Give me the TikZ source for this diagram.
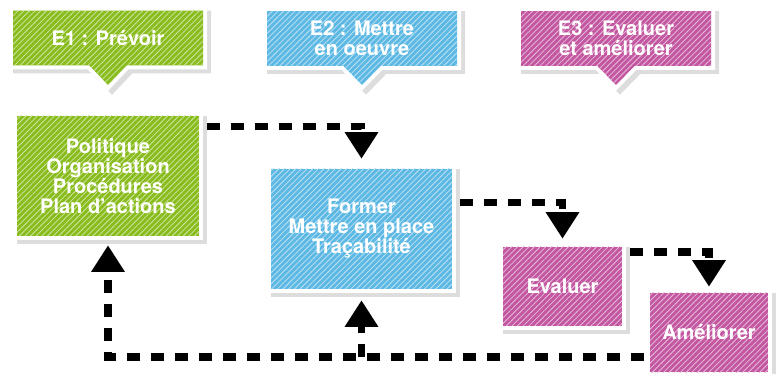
\documentclass[tikz,border=0pt]{standalone}
\usepackage{fontspec}
\setmainfont{TeX Gyre Heros}
\usetikzlibrary{arrows.meta,shapes.callouts,shadows,patterns.meta}
\definecolor{vert}{RGB}{137,188,29}
\definecolor{bleu}{RGB}{93,185,228}
\definecolor{rose}{RGB}{195,87,161}
\definecolor{ombre}{RGB}{221,221,221}
\tikzset{
  bloc/.style={rectangle, fill=#1, inner sep=0pt, align=center, text=white,
    font=\fontsize{15}{15}\selectfont\bfseries,
    drop shadow={shadow xshift=3pt, shadow yshift=-3pt, fill=ombre, draw=ombre, line width=6pt, opacity=1},
    preaction={draw=white, line width=6pt},
    postaction={pattern={Lines[angle=45,distance=3pt,line width=0.6pt]}, pattern color=#1!40!white}},
  etape/.style={bloc=#1, rectangle callout, callout pointer width=28pt, minimum width=142.5pt, minimum height=41pt},
  flux/.style={draw, line width=5.5pt, dash pattern=on 9.75pt off 8.25pt, -{Triangle[width=24pt,length=20pt]}},
}
\begin{document}
\begin{tikzpicture}[x=0.75pt,y=-0.75pt]
\useasboundingbox (0,0) rectangle (779,374);
%etapes
\node[etape=vert, callout absolute pointer={(108,85)}] (e1) at (108,38) {E1 : Prévoir};
\node[etape=bleu, callout absolute pointer={(362,85)}] (e2) at (362,38.5) {E2 : Mettre\\en oeuvre};
\node[etape=rose, callout absolute pointer={(616,85)}] (e3) at (616,38.5) {E3 : Evaluer\\et améliorer};
%blocs
\node[bloc=vert, minimum width=136.5pt, minimum height=90pt] (prevoir) at (108,176) {Politique\\Organisation\\Procédures\\Plan d'actions};
\node[bloc=bleu, minimum width=135.75pt, minimum height=90pt] (mettre) at (361.5,229) {Former\\Mettre en place\\Traçabilité};
\node[bloc=rose, minimum width=89.25pt, minimum height=59.25pt] (evaluer) at (562.5,286.5) {Evaluer};
\node[bloc=rose, minimum width=88.5pt, minimum height=59.25pt] (ameliorer) at (709,332.5) {Améliorer};
%fleches
\draw[flux, shorten >=7.5pt] ([xshift=6pt,yshift=-8.25pt]prevoir.north east) -| (mettre.north);
\draw[flux, shorten >=6pt] ([xshift=6pt,yshift=-25.5pt]mettre.north east) -| (evaluer.north);
\draw[flux, shorten >=4.5pt] ([xshift=6pt,yshift=-4pt]evaluer.north east) -| (ameliorer.north);
%retour
\coordinate (retour) at ([xshift=-4pt,yshift=-18.4pt]ameliorer.west);
\draw[flux, shorten >=6.75pt] (retour) -| (prevoir.south);
\draw[flux, shorten >=8.25pt] (retour -| mettre.south) -- (mettre.south);
\end{tikzpicture}
\end{document}
